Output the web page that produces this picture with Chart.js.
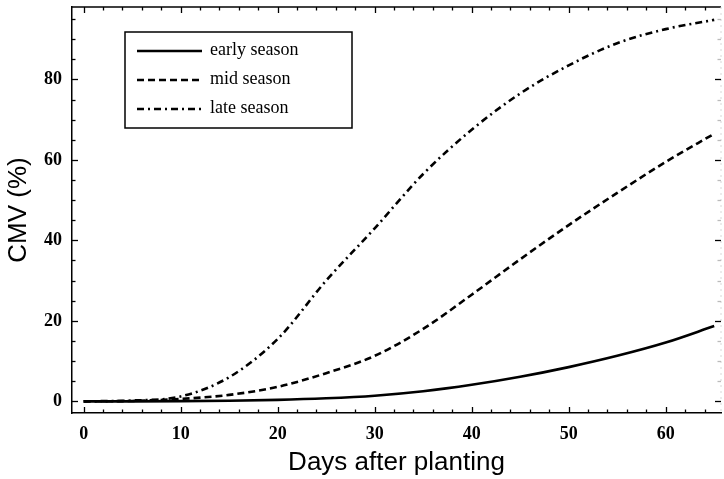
<!DOCTYPE html>
<html><head><meta charset="utf-8">
<script src="https://cdn.jsdelivr.net/npm/chart.js@4.4.0/dist/chart.umd.min.js"></script>
<style>html,body{margin:0;padding:0;background:#fff}#wrap{width:724px;height:479px}</style>
</head><body><div id="wrap"><canvas id="c" width="724" height="479"></canvas></div>
<script>
const days = [0, 5, 10, 15, 20, 25, 30, 35, 40, 45, 50, 55, 60, 65];
const earlySeason = [0, 0, 0.05, 0.15, 0.35, 0.75, 1.4, 2.5, 4.1, 6.1, 8.5, 11.3, 14.6, 18.7];
const midSeason = [0, 0.1, 0.6, 1.6, 3.6, 7.0, 11.3, 18.0, 26.5, 35.3, 43.8, 51.8, 59.5, 66.5];
const lateSeason = [0, 0.2, 1.2, 6.0, 15.5, 30.0, 43.0, 56.5, 67.5, 76.5, 83.5, 89.0, 92.5, 94.8];
const seriesLabels = ['early season', 'mid season', 'late season'];
const xTickValues = [0, 10, 20, 30, 40, 50, 60];
const yTickValues = [0, 20, 40, 60, 80];
const xTitle = 'Days after planting';
const yTitle = 'CMV (%)';

const toXY = arr => days.map((d, i) => ({x: d, y: arr[i]}));

const frameTicks = {
  id: 'frameTicks',
  afterDatasetsDraw(chart) {
    const {ctx, chartArea: a, scales: {x, y}} = chart;
    ctx.save();
    ctx.strokeStyle = '#000';
    ctx.lineWidth = 1.5;
    ctx.beginPath(); ctx.moveTo(a.left, a.top); ctx.lineTo(a.right, a.top); ctx.stroke();
    ctx.strokeStyle = '#d8d8d8'; ctx.lineWidth = 1;
    ctx.setLineDash([2, 4]);
    ctx.beginPath(); ctx.moveTo(a.right, a.top); ctx.lineTo(a.right, a.bottom); ctx.stroke();
    ctx.setLineDash([]);
    ctx.strokeStyle = '#000'; ctx.lineWidth = 1.3;
    for (let v = 0; v <= x.max; v += 2) {
      const px = Math.round(x.getPixelForValue(v)) + 0.5;
      const len = v % 10 === 0 ? 6 : 3.5;
      ctx.beginPath();
      ctx.moveTo(px, a.bottom); ctx.lineTo(px, a.bottom - len);
      ctx.moveTo(px, a.top); ctx.lineTo(px, a.top + len);
      ctx.stroke();
    }
    for (let v = 0; v <= y.max; v += 5) {
      const py = Math.round(y.getPixelForValue(v)) + 0.5;
      const len = v % 20 === 0 ? 6 : 3.5;
      ctx.beginPath();
      ctx.moveTo(a.left, py); ctx.lineTo(a.left + len, py);
      ctx.stroke();
      ctx.strokeStyle = v % 20 === 0 ? '#000' : '#bbb';
      ctx.beginPath();
      ctx.moveTo(a.right, py); ctx.lineTo(a.right - len, py);
      ctx.stroke();
      ctx.strokeStyle = '#000';
    }
    ctx.restore();
  }
};

const boxLegend = {
  id: 'boxLegend',
  afterDraw(chart) {
    const {ctx} = chart;
    ctx.save();
    const bx = 125, by = 32, bw = 227, bh = 96;
    ctx.fillStyle = '#fff';
    ctx.fillRect(bx, by, bw, bh);
    ctx.strokeStyle = '#000'; ctx.lineWidth = 1.5;
    ctx.strokeRect(bx, by, bw, bh);
    chart.data.datasets.forEach((ds, i) => {
      const yy = 51 + i * 29;
      ctx.strokeStyle = ds.borderColor;
      ctx.lineWidth = ds.borderWidth;
      ctx.setLineDash(ds.borderDash || []);
      ctx.beginPath(); ctx.moveTo(137, yy); ctx.lineTo(202, yy); ctx.stroke();
      ctx.setLineDash([]);
      ctx.fillStyle = '#000';
      ctx.font = '18px "Liberation Serif", "Times New Roman", serif';
      ctx.textBaseline = 'middle';
      ctx.textAlign = 'left';
      ctx.fillText(ds.label, 210, yy - 1);
    });
    ctx.restore();
  }
};

new Chart(document.getElementById('c'), {
  type: 'line',
  data: {
    datasets: [
      {label: seriesLabels[0], data: toXY(earlySeason), borderColor: '#000', borderWidth: 2.6, borderDash: [], pointRadius: 0, cubicInterpolationMode: 'monotone', fill: false},
      {label: seriesLabels[1], data: toXY(midSeason), borderColor: '#000', borderWidth: 2.6, borderDash: [7, 4], pointRadius: 0, cubicInterpolationMode: 'monotone', fill: false},
      {label: seriesLabels[2], data: toXY(lateSeason), borderColor: '#000', borderWidth: 2.6, borderDash: [7, 4, 2, 4], pointRadius: 0, cubicInterpolationMode: 'monotone', fill: false}
    ]
  },
  options: {
    responsive: false,
    animation: false,
    devicePixelRatio: 1,
    layout: {padding: {top: 7, right: 3, left: 0, bottom: 0}},
    plugins: {legend: {display: false}, tooltip: {enabled: false}},
    scales: {
      x: {
        type: 'linear', min: -1.2, max: 65.7,
        afterBuildTicks: s => { s.ticks = xTickValues.map(v => ({value: v})); },
        afterFit: s => { s.height = 66; s.paddingLeft = 0; s.paddingRight = 0; },
        grid: {display: false, drawTicks: false},
        border: {display: true, color: '#000', width: 1.5},
        ticks: {color: '#000', padding: 11, maxRotation: 0, font: {family: '"Liberation Serif", "Times New Roman", serif', size: 18, weight: 'bold'}},
        title: {display: true, text: xTitle, color: '#000', padding: {top: 0, bottom: 3}, font: {family: '"Liberation Sans", Arial, sans-serif', size: 26, lineHeight: 1}}
      },
      y: {
        type: 'linear', min: -2.9, max: 98,
        afterBuildTicks: s => { s.ticks = yTickValues.map(v => ({value: v})); },
        afterFit: s => { s.width = 72; s.paddingTop = 0; s.paddingBottom = 0; },
        grid: {display: false, drawTicks: false},
        border: {display: true, color: '#000', width: 1.5},
        ticks: {color: '#000', padding: 10, font: {family: '"Liberation Serif", "Times New Roman", serif', size: 18, weight: 'bold'}},
        title: {display: true, text: yTitle, color: '#000', padding: {top: 6, bottom: 0}, font: {family: '"Liberation Sans", Arial, sans-serif', size: 26, lineHeight: 1}}
      }
    }
  },
  plugins: [frameTicks, boxLegend]
});
</script>
</body></html>
